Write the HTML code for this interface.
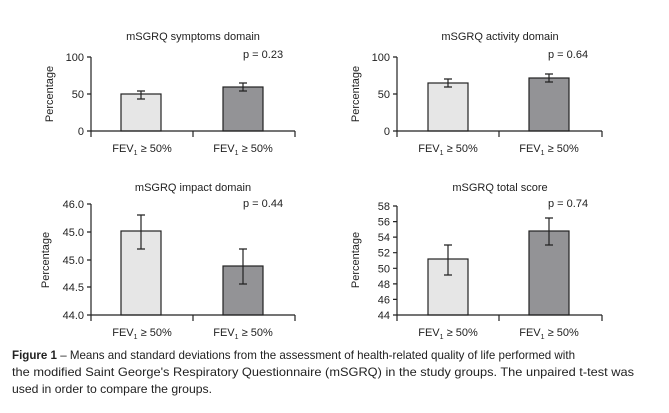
<!DOCTYPE html>
<html><head><meta charset="utf-8"><style>
html,body{margin:0;padding:0;background:#fff;}
svg{display:block;font-family:"Liberation Sans",sans-serif;}
</style></head><body>
<svg width="669" height="413" viewBox="0 0 669 413" xmlns="http://www.w3.org/2000/svg">
<g fill="#222" font-size="11">
<!-- Chart 1 -->
<text x="193" y="40" text-anchor="middle">mSGRQ symptoms domain</text>
<text x="243" y="58">p = 0.23</text>
<text x="84" y="61" text-anchor="end">100</text>
<text x="84" y="98" text-anchor="end">50</text>
<text x="84" y="135" text-anchor="end">0</text>
<text transform="translate(53,94) rotate(-90)" text-anchor="middle">Percentage</text>
<rect x="121" y="94" width="40" height="37" fill="#e6e6e6" stroke="#222" stroke-width="1.2"/>
<rect x="223" y="87" width="40" height="44" fill="#939396" stroke="#222" stroke-width="1.2"/>
<path d="M91 57V131M87 57H91M87 94H91M87 131H295M91 131V137M193 131V137M295 131V137M141 91V99M137 91H145M137 99H145M243 83V91M239 83H247M239 91H247" stroke="#222" stroke-width="1.2" fill="none"/>
<text x="142" y="152" text-anchor="middle">FEV<tspan font-size="7" dy="3">1</tspan><tspan dy="-3"> ≥ 50%</tspan></text>
<text x="243" y="152" text-anchor="middle">FEV<tspan font-size="7" dy="3">1</tspan><tspan dy="-3"> ≥ 50%</tspan></text>

<!-- Chart 2 -->
<text x="500" y="40" text-anchor="middle">mSGRQ activity domain</text>
<text x="548" y="58">p = 0.64</text>
<text x="390" y="61" text-anchor="end">100</text>
<text x="390" y="98" text-anchor="end">50</text>
<text x="390" y="135" text-anchor="end">0</text>
<text transform="translate(359,94) rotate(-90)" text-anchor="middle">Percentage</text>
<rect x="428" y="83" width="40" height="48" fill="#e6e6e6" stroke="#222" stroke-width="1.2"/>
<rect x="529" y="78" width="40" height="53" fill="#939396" stroke="#222" stroke-width="1.2"/>
<path d="M397 57V131M393 57H397M393 94H397M393 131H602M397 131V137M499 131V137M602 131V137M448 79V87M444 79H452M444 87H452M549 74V82M545 74H553M545 82H553" stroke="#222" stroke-width="1.2" fill="none"/>
<text x="448" y="152" text-anchor="middle">FEV<tspan font-size="7" dy="3">1</tspan><tspan dy="-3"> ≥ 50%</tspan></text>
<text x="549" y="152" text-anchor="middle">FEV<tspan font-size="7" dy="3">1</tspan><tspan dy="-3"> ≥ 50%</tspan></text>

<!-- Chart 3 -->
<text x="193" y="191" text-anchor="middle">mSGRQ impact domain</text>
<text x="243" y="207">p = 0.44</text>
<text x="84" y="208" text-anchor="end">46.0</text>
<text x="84" y="236" text-anchor="end">45.0</text>
<text x="84" y="264" text-anchor="end">45.0</text>
<text x="84" y="291" text-anchor="end">44.5</text>
<text x="84" y="319" text-anchor="end">44.0</text>
<text transform="translate(49,260) rotate(-90)" text-anchor="middle">Percentage</text>
<rect x="121" y="231" width="40" height="84" fill="#e6e6e6" stroke="#222" stroke-width="1.2"/>
<rect x="223" y="266" width="40" height="49" fill="#939396" stroke="#222" stroke-width="1.2"/>
<path d="M91 204V315M87 204H91M87 232H91M87 260H91M87 287H91M87 315H295M91 315V321M193 315V321M295 315V321M141 215V249M137 215H145M137 249H145M243 249V284M239 249H247M239 284H247" stroke="#222" stroke-width="1.2" fill="none"/>
<text x="142" y="336" text-anchor="middle">FEV<tspan font-size="7" dy="3">1</tspan><tspan dy="-3"> ≥ 50%</tspan></text>
<text x="243" y="336" text-anchor="middle">FEV<tspan font-size="7" dy="3">1</tspan><tspan dy="-3"> ≥ 50%</tspan></text>

<!-- Chart 4 -->
<text x="500" y="191" text-anchor="middle">mSGRQ total score</text>
<text x="548" y="207">p = 0.74</text>
<g text-anchor="end">
<text x="390" y="210">58</text><text x="390" y="225.6">56</text><text x="390" y="241.1">54</text><text x="390" y="256.7">52</text>
<text x="390" y="272.3">50</text><text x="390" y="287.9">48</text><text x="390" y="303.4">46</text><text x="390" y="319">44</text>
</g>
<text transform="translate(359,260) rotate(-90)" text-anchor="middle">Percentage</text>
<rect x="428" y="259" width="40" height="56" fill="#e6e6e6" stroke="#222" stroke-width="1.2"/>
<rect x="529" y="231" width="40" height="84" fill="#939396" stroke="#222" stroke-width="1.2"/>
<path d="M397 206V315M393 206H397M393 221.6H397M393 237.1H397M393 252.7H397M393 268.3H397M393 283.9H397M393 299.4H397M393 315H602M397 315V321M499 315V321M602 315V321M448 245V275M444 245H452M444 275H452M549 218V245M545 218H553M545 245H553" stroke="#222" stroke-width="1.2" fill="none"/>
<text x="448" y="336" text-anchor="middle">FEV<tspan font-size="7" dy="3">1</tspan><tspan dy="-3"> ≥ 50%</tspan></text>
<text x="549" y="336" text-anchor="middle">FEV<tspan font-size="7" dy="3">1</tspan><tspan dy="-3"> ≥ 50%</tspan></text>
</g>

<!-- Caption -->
<g fill="#222" font-size="12">
<text x="12" y="359" textLength="563" lengthAdjust="spacingAndGlyphs"><tspan font-weight="bold">Figure 1</tspan> – Means and standard deviations from the assessment of health-related quality of life performed with</text>
<text x="12" y="376" textLength="622" lengthAdjust="spacingAndGlyphs">the modified Saint George's Respiratory Questionnaire (mSGRQ) in the study groups. The unpaired t-test was</text>
<text x="12" y="393" textLength="200" lengthAdjust="spacingAndGlyphs">used in order to compare the groups.</text>
</g>
</svg>
</body></html>
